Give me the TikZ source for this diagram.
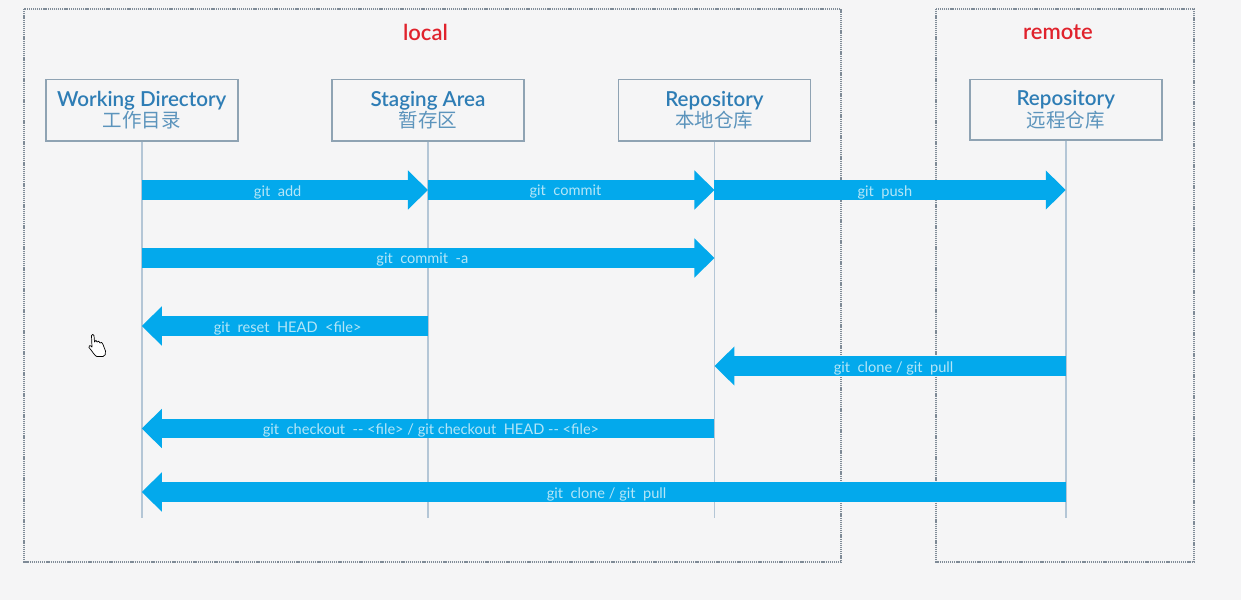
\documentclass[tikz,border=0pt]{standalone}
\usepackage{fontspec}
\setmainfont{Lato}
\newfontfamily\cjk{Noto Sans CJK SC}
\newfontfamily\med{Lato Medium}
\newfontfamily\semi{Lato Semibold}
\usetikzlibrary{arrows.meta}
\definecolor{pagebg}{HTML}{F5F5F6}
\definecolor{framec}{HTML}{7F8B97}
\definecolor{boxc}{HTML}{8FA3B3}
\definecolor{lifec}{HTML}{B4C6D6}
\definecolor{titlec}{HTML}{2E7DB5}
\definecolor{cjkc}{HTML}{5C94BC}
\definecolor{flowc}{HTML}{03A9EC}
\definecolor{flowt}{HTML}{B5E6F7}
\definecolor{redc}{HTML}{E0222C}
\tikzset{
  x=1pt,y=-1pt,
  frame/.style={draw=framec,line width=1.2pt,dash pattern=on 1.2pt off 0.9pt},
  titlelabel/.style={text=redc,font=\semi\fontsize{22}{24}\selectfont},
  stage/.style={draw=boxc,line width=1.5pt,minimum width=192pt,minimum height=61.5pt,inner sep=0pt,align=center,
    font=\semi\fontsize{20.6}{21.5}\selectfont,text=titlec,anchor=north west},
  life/.style={draw=lifec,line width=1.5pt},
  flow/.style={draw=flowc,line width=19.5pt,-{Triangle[length=20pt,width=38pt]}},
  flowlabel/.style={text=flowt,font=\fontsize{14.6}{16}\selectfont,inner sep=0pt,yshift=-2pt},
}
\newcommand{\zh}[1]{{\cjk\color{cjkc}\fontsize{19.5}{21.5}\selectfont #1}}
\begin{document}
\begin{tikzpicture}
\useasboundingbox (0,0) rectangle (1241,600);
\fill[pagebg] (0,0) rectangle (1241,600);
\draw[frame] (24,9) rectangle (841,562);
\draw[frame] (936,9) rectangle (1194,562);
\node[titlelabel] (local) at (425.5,32) {local};
\node[titlelabel] (remote) at (1058,32) {remote};
\node[stage] (wd) at (45,78.5) {Working Directory\\\zh{工作目录}};
\node[stage] (sa) at (331.2,78.5) {Staging Area\\\zh{暂存区}};
\node[stage] (lr) at (617.7,78.5) {Repository\\\zh{本地仓库}};
\node[stage,minimum height=60.5pt] (rr) at (969,78.5) {Repository\\\zh{远程仓库}};
\coordinate (wdend) at (wd.south |- 0,518);
\coordinate (saend) at (sa.south |- 0,518);
\coordinate (lrend) at (lr.south |- 0,518);
\coordinate (rrend) at (rr.south |- 0,518);
\draw[life] (wd.south) -- (wdend);
\draw[life] (sa.south) -- (saend);
\draw[life] (lr.south) -- (lrend);
\draw[life] (rr.south) -- (rrend);
\foreach \n/\y in {a/190,b/258,c/326,d/366,e/428.5,f/492}{
  \coordinate (wd\n) at (wd.south |- 0,\y);
  \coordinate (sa\n) at (sa.south |- 0,\y);
  \coordinate (lr\n) at (lr.south |- 0,\y);
  \coordinate (rr\n) at (rr.south |- 0,\y);
}
\draw[flow] (wda) -- node[flowlabel,pos=.475] (l1) {git\ \ add} (saa);
\draw[flow] (saa) -- node[flowlabel,pos=.48] (l2) {git\ \ commit} (lra);
\draw[flow] (lra) -- node[flowlabel,pos=.485] (l3) {git\ \ push} (rra);
\draw[flow] (wdb) -- node[flowlabel,pos=.49] (l4) {git\ \ commit\ \ -a} (lrb);
\draw[flow] (sac) -- node[flowlabel,pos=.49] (l5) {git\ \ reset\ \ HEAD\ \ <file>} (wdc);
\draw[flow] (rrd) -- node[flowlabel,pos=.49] (l6) {git\ \ clone / git\ \ pull} (lrd);
\draw[flow] (lre) -- node[flowlabel,pos=.495] (l7) {git\ \ checkout\ \ {-}{-} <file> / git checkout\ \ HEAD {-}{-} <file>} (wde);
\draw[flow] (rrf) -- node[flowlabel,pos=.497] (l8) {git\ \ clone / git\ \ pull} (wdf);
% hand cursor
\draw[black,fill=white,line width=.7pt,line join=round]
  (91.5,335.5) .. controls (91.5,334) and (94,334) .. (94,335.5)
  -- (94.5,342) .. controls (95,339.5) and (97,340) .. (97,342)
  .. controls (97.5,340.5) and (100,341) .. (100,343)
  .. controls (100.5,342) and (103,342) .. (103,344.5)
  -- (105.5,351) .. controls (106,354) and (105,356) .. (103,356.5)
  -- (97,356.5) .. controls (95,356.5) and (93,352) .. (89,347.5)
  .. controls (88,346) and (90,344.5) .. (92,347) -- cycle;
\end{tikzpicture}
\end{document}
